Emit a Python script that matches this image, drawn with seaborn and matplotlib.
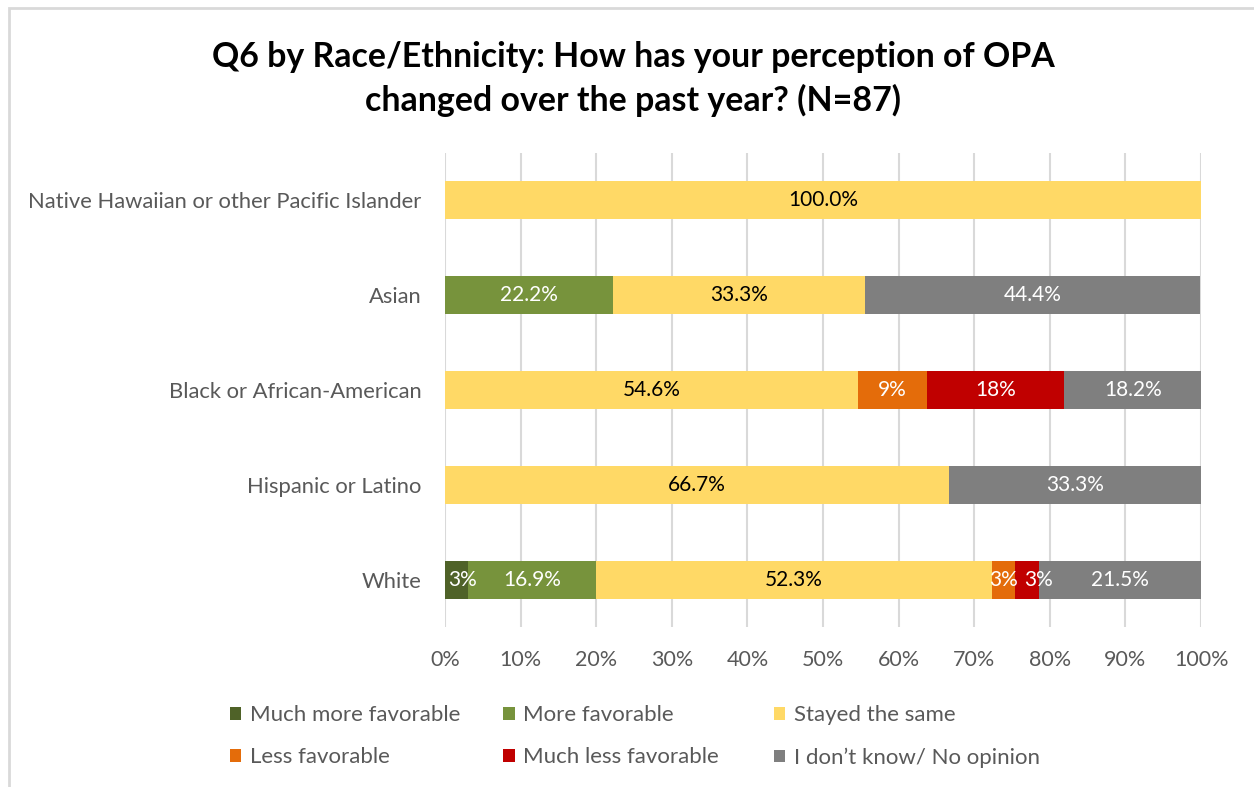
import matplotlib
matplotlib.use("Agg")
import matplotlib.pyplot as plt
from matplotlib.patches import Patch, Rectangle
import numpy as np
import pandas as pd
import seaborn as sns

sns.set_theme(style="white")
plt.rcParams["font.family"] = ["Lato", "DejaVu Sans"]

# Survey responses by race/ethnicity (percent of respondents)
groups = [
    "Native Hawaiian or other Pacific Islander",
    "Asian",
    "Black or African-American",
    "Hispanic or Latino",
    "White",
]
responses = [
    "Much more favorable",
    "More favorable",
    "Stayed the same",
    "Less favorable",
    "Much less favorable",
    "I don\u2019t know/ No opinion",
]
much_more_favorable = [0.0, 0.0, 0.0, 0.0, 3.1]
more_favorable = [0.0, 22.2, 0.0, 0.0, 16.9]
stayed_the_same = [100.0, 33.3, 54.6, 66.7, 52.3]
less_favorable = [0.0, 0.0, 9.1, 0.0, 3.1]
much_less_favorable = [0.0, 0.0, 18.2, 0.0, 3.1]
dont_know = [0.0, 44.4, 18.2, 33.3, 21.5]

# Segments whose labels are shown as whole percents
whole_pct_series = {"Much more favorable", "Less favorable", "Much less favorable"}

series = [much_more_favorable, more_favorable, stayed_the_same,
          less_favorable, much_less_favorable, dont_know]
colors = ["#4F6228", "#77933C", "#FFD966", "#E46C0A", "#C00000", "#7F7F7F"]
text_colors = ["white", "white", "black", "white", "white", "white"]

df = pd.DataFrame({"group": groups})
for name, vals in zip(responses, series):
    df[name] = vals
cum = df[responses].cumsum(axis=1)

fig = plt.figure(figsize=(12.54, 7.87), dpi=100)
ax = fig.add_axes([0.3549, 0.2027, 0.6029, 0.603])

# Stacked bars: draw cumulative totals from the last segment back to the first
for name, color in list(zip(responses, colors))[::-1]:
    sns.barplot(x=cum[name], y=df["group"], orient="h", color=color,
                width=0.4, saturation=1, ax=ax, zorder=3, linewidth=0)

ax.set_xlim(0, 100)

# Segment value labels; narrow neighbouring segments get their labels
# pushed right so they do not collide
fig.canvas.draw()
renderer = fig.canvas.get_renderer()
axes_left = ax.get_window_extent(renderer).x0
for j, g in enumerate(groups):
    prev_right = axes_left - 3
    for i, name in enumerate(responses):
        v = df.loc[j, name]
        if v <= 0:
            continue
        center = cum.loc[j, name] - v / 2
        label = f"{v:.0f}%" if name in whole_pct_series else f"{v:.1f}%"
        t = ax.annotate(label, (center, j), xytext=(0, 0),
                        textcoords="offset pixels", ha="center", va="center",
                        color=text_colors[i], fontsize=15, zorder=4)
        bb = t.get_window_extent(renderer)
        shift = 0.0
        if bb.x0 < prev_right + 6:
            shift = prev_right + 6 - bb.x0
            t.set_position((shift, 0))
        prev_right = bb.x1 + shift

ax.set_xticks(np.arange(0, 101, 10))
ax.set_xticklabels([f"{t}%" for t in range(0, 101, 10)])
ax.set_xlabel("")
ax.set_ylabel("")
ax.xaxis.grid(True, color="#D9D9D9", linewidth=1.5, zorder=0)
ax.yaxis.grid(False)
ax.set_axisbelow(True)
for s in ax.spines.values():
    s.set_visible(False)
ax.tick_params(axis="y", length=0, pad=17, labelsize=15.8, labelcolor="#595959")
ax.tick_params(axis="x", length=0, pad=16, labelsize=15.5, labelcolor="#595959")

fig.text(0.505, 0.927, "Q6 by Race/Ethnicity: How has your perception of OPA",
         ha="center", va="center", fontsize=24.4, fontweight="bold", color="black")
fig.text(0.505, 0.873, "changed over the past year? (N=87)",
         ha="center", va="center", fontsize=24.4, fontweight="bold", color="black")

# Legend: three columns, two entries each
col_x = [0.1835, 0.4015, 0.617]
for c in range(3):
    idx = [c, c + 3]
    fig.legend([Patch(facecolor=colors[k], edgecolor="none") for k in idx],
               [responses[k] for k in idx],
               loc="upper left", bbox_to_anchor=(col_x[c], 0.104),
               borderaxespad=0, borderpad=0,
               frameon=False, fontsize=16, labelcolor="#595959",
               handlelength=0.5, handleheight=0.5, handletextpad=0.4,
               labelspacing=1.0)

# Chart area border
fig.add_artist(Rectangle((0.0068, -0.01), 1.2, 1.0 - 0.0107 + 0.01,
                         transform=fig.transFigure, fill=False,
                         edgecolor="#D9D9D9", linewidth=2))

fig.savefig("out.png", dpi=100)
